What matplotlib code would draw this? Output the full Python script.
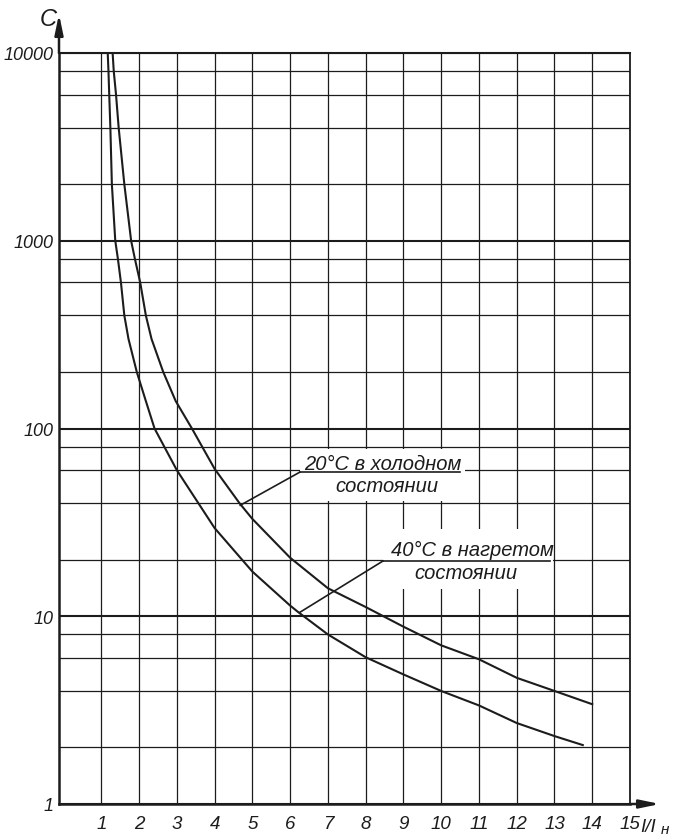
import matplotlib.pyplot as plt
from matplotlib.patches import Rectangle
from matplotlib.ticker import FixedLocator, NullFormatter

# time C (s) against current multiple I/Iн
cold_x = [1.30, 1.33, 1.39, 1.46, 1.61, 1.79, 1.89, 2.03, 2.18, 2.33, 2.64, 2.97,
          3.40, 4.0, 4.66, 5.0, 6.0, 7.0, 8.0, 9.0, 10.0, 11.0, 12.0, 13.0, 14.0]
cold_t = [10000, 8000, 6000, 4000, 2000, 1000, 800, 600, 400, 300, 200, 140,
          100, 61, 40, 33, 20.5, 14.1, 11.2, 8.8, 7.0, 5.9, 4.7, 4.0, 3.4]

hot_x = [1.17, 1.19, 1.21, 1.24, 1.28, 1.37, 1.44, 1.52, 1.61, 1.72, 1.94, 2.18,
         2.41, 3.0, 4.0, 5.0, 6.0, 6.22, 7.0, 8.0, 9.0, 10.0, 11.0, 12.0, 13.0, 13.75]
hot_t = [10000, 8000, 6000, 4000, 2000, 1000, 800, 600, 400, 300, 200, 140,
         100, 60, 29.5, 17.3, 11.4, 10.5, 8.0, 6.05, 4.9, 4.0, 3.35, 2.7, 2.3, 2.06]

x_ticks = list(range(1, 16))
y_ticks = [1, 10, 100, 1000, 10000]
y_labels = ['1', '10', '100', '1000', '10000']
y_minor = [m * d for d in (1, 10, 100, 1000) for m in (2, 4, 6, 8)]

cold_label = ['20°C в холодном', 'состоянии']
hot_label = ['40°C в нагретом', 'состоянии']

ink = '#1c1c1c'
hand = ['Liberation Sans', 'DejaVu Sans']

fig = plt.figure(figsize=(6.78, 8.37), dpi=100)
ax = fig.add_axes([59 / 678, 32 / 837, 571 / 678, 751 / 837])
ax.set_yscale('log')
ax.set_xlim(-0.12, 15)
ax.set_ylim(1, 10000)

ax.set_xticks(x_ticks)
ax.set_xticklabels([str(v) for v in x_ticks], fontfamily=hand,
                   fontstyle='italic', fontsize=13.5, color=ink)
ax.set_yticks(y_ticks)
ax.set_yticklabels(y_labels, fontfamily=hand, fontstyle='italic',
                   fontsize=13, color=ink)
ax.yaxis.set_minor_locator(FixedLocator(y_minor))
ax.yaxis.set_minor_formatter(NullFormatter())
ax.tick_params(which='both', length=0)
ax.tick_params(axis='x', pad=8)
ax.tick_params(axis='y', pad=4)

ax.grid(True, which='major', axis='y', color=ink, lw=1.5)
ax.grid(True, which='minor', axis='y', color=ink, lw=0.9)
ax.grid(True, which='major', axis='x', color=ink, lw=0.9)

for side, w in (('left', 1.8), ('bottom', 1.8), ('top', 1.5), ('right', 1.3)):
    ax.spines[side].set_linewidth(w)
    ax.spines[side].set_color(ink)

# axis arrows
arrow = dict(arrowstyle='-|>,head_length=1.2,head_width=0.25', color=ink,
             lw=1.8, shrinkA=0, shrinkB=0)
ax.annotate('', xy=(0, 1 + 39 / 751), xytext=(0, 1), xycoords='axes fraction',
            arrowprops=arrow, annotation_clip=False)
ax.annotate('', xy=(1 + 30 / 571, 0), xytext=(1, 0), xycoords='axes fraction',
            arrowprops=arrow, annotation_clip=False)

fig.text(48 / 678, 1 - 19 / 837, 'C', fontfamily=hand, fontstyle='italic',
         fontsize=17, color=ink, ha='center', va='center')
fig.text(640 / 678, 1 - 832 / 837, 'I/I', fontfamily=hand, fontstyle='italic',
         fontsize=13.5, color=ink, ha='left', va='baseline')
fig.text(661 / 678, 1 - 834 / 837, 'н', fontfamily=hand, fontstyle='italic',
         fontsize=11, color=ink, ha='left', va='baseline')

# curves
ax.plot(cold_x, cold_t, color=ink, lw=1.5, zorder=3)
ax.plot(hot_x, hot_t, color=ink, lw=1.5, zorder=3)

# label for the cold curve
ax.add_patch(Rectangle((6.26, 41), 10.63 - 6.26, 78 - 41, facecolor='white',
                       edgecolor='none', zorder=2))
ax.text(8.46, 65.5, cold_label[0], fontfamily=hand, fontstyle='italic',
        fontsize=14.5, color=ink, ha='center', va='center', zorder=4)
ax.text(8.55, 49.5, cold_label[1], fontfamily=hand, fontstyle='italic',
        fontsize=14.5, color=ink, ha='center', va='center', zorder=4)
ax.plot([6.26, 10.5], [58.6, 58.6], color=ink, lw=1.2, zorder=3)
ax.plot([4.68, 6.26], [39, 58.6], color=ink, lw=1.2, zorder=3)

# label for the hot curve
ax.add_patch(Rectangle((8.46, 14), 12.96 - 8.46, 29.2 - 14, facecolor='white',
                       edgecolor='none', zorder=2))
ax.text(10.82, 22.6, hot_label[0], fontfamily=hand, fontstyle='italic',
        fontsize=14.5, color=ink, ha='center', va='center', zorder=4)
ax.text(10.66, 17.2, hot_label[1], fontfamily=hand, fontstyle='italic',
        fontsize=14.5, color=ink, ha='center', va='center', zorder=4)
ax.plot([8.46, 12.88], [19.7, 19.7], color=ink, lw=1.2, zorder=3)
ax.plot([6.26, 8.46], [10.5, 19.7], color=ink, lw=1.2, zorder=3)

fig.savefig('out.png', dpi=100)
